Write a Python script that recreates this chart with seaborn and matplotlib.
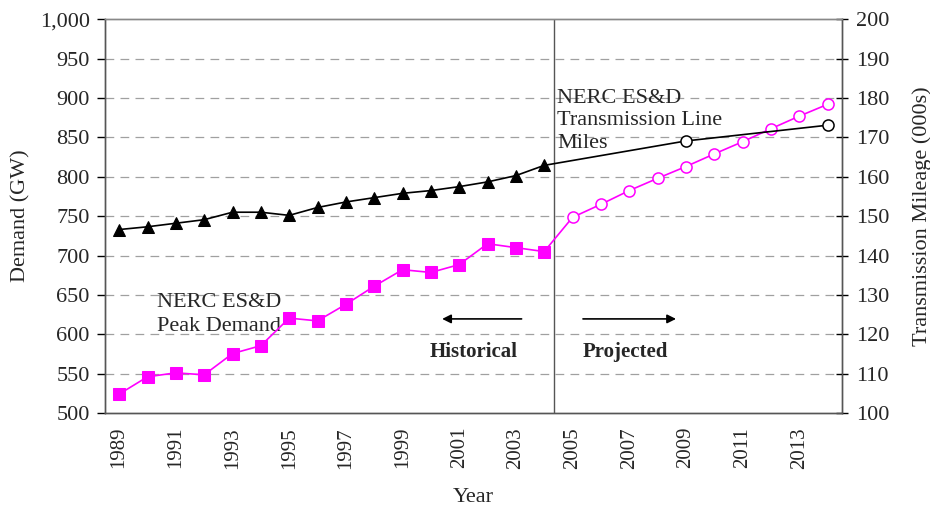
import numpy as np
import pandas as pd
import matplotlib
matplotlib.use("Agg")
import matplotlib.pyplot as plt
import seaborn as sns

# Categories (years)
years = list(range(1989, 2015))

# NERC ES&D peak demand (GW): historical 1989-2004, projected 2005-2014
demand_hist = [524, 546, 551, 548.5, 575.5, 585.5, 620.5, 617, 638, 661,
               682, 678.5, 688.5, 715, 710, 705]
demand_proj = [748.5, 765, 782.5, 798, 813, 829, 844.5, 861, 877, 892]

# Transmission line miles (000s): historical 1989-2004, projections at 2009 and 2014
miles_hist = [146.6, 147.3, 148.2, 149.1, 151.0, 151.0, 150.2, 152.2, 153.6, 154.7,
              155.8, 156.5, 157.5, 158.7, 160.3, 162.9]
miles_proj_years = [2009, 2014]
miles_proj = [169.1, 173.1]

tick_years = [1989, 1991, 1993, 1995, 1997, 1999, 2001, 2003, 2005, 2007, 2009, 2011, 2013]

PINK = "#ff00ff"

sns.set_style("white")
plt.rcParams['font.family'] = ['Liberation Serif', 'DejaVu Serif']

fig = plt.figure(figsize=(9.3, 5.08), dpi=100)
ax = fig.add_axes([0.1129, 0.187, 0.7922, 0.775])
ax2 = ax.twinx()

pos = {y: i for i, y in enumerate(years)}
n_hist = len(demand_hist)

dem_h = pd.DataFrame({"x": [pos[y] for y in years[:n_hist]], "v": demand_hist})
dem_p = pd.DataFrame({"x": [pos[y] for y in years[n_hist - 1:]],
                      "v": [demand_hist[-1]] + demand_proj})
mil_h = pd.DataFrame({"x": [pos[y] for y in years[:n_hist]], "v": miles_hist})
mil_p = pd.DataFrame({"x": [pos[years[n_hist - 1]]] + [pos[y] for y in miles_proj_years],
                      "v": [miles_hist[-1]] + miles_proj})

# projected lines (connecting from last historical point)
sns.lineplot(data=dem_p, x="x", y="v", ax=ax, color=PINK, lw=1.2, zorder=3)
ax.plot(dem_p["x"][1:], dem_p["v"][1:], ls="none", marker="o", ms=8,
        mfc="white", mec=PINK, mew=1.1, zorder=4)
sns.lineplot(data=dem_h, x="x", y="v", ax=ax, color=PINK, lw=1.2, marker="s",
             markersize=8, markeredgecolor=PINK, zorder=4)

sns.lineplot(data=mil_p, x="x", y="v", ax=ax2, color="black", lw=1.2, zorder=3)
ax2.plot(mil_p["x"][1:], mil_p["v"][1:], ls="none", marker="o", ms=8,
         mfc="white", mec="black", mew=1.1, zorder=4)
sns.lineplot(data=mil_h, x="x", y="v", ax=ax2, color="black", lw=1.2, marker="^",
             markersize=8, markeredgecolor="black", zorder=4)

# axes limits / ticks
ax.set_xlim(-0.5, len(years) - 0.5)
ax.set_ylim(500, 1000)
ax2.set_ylim(100, 200)
ax.set_yticks(np.arange(500, 1001, 50))
ax.set_yticklabels([f"{v:,}" for v in range(500, 1001, 50)])
ax2.set_yticks(np.arange(100, 201, 10))

ax.set_xticks(np.arange(len(years) + 1) - 0.5, minor=False)
ax.set_xticklabels([])
ax.set_xticks([pos[y] for y in tick_years], minor=True)
ax.set_xticklabels([str(y) for y in tick_years], minor=True, rotation=90, fontsize=15)
ax.tick_params(axis="x", which="major", direction="out", length=7, width=1, color="black")
ax.tick_params(axis="x", which="minor", length=0, pad=10)
ax.tick_params(axis="y", direction="out", length=6, width=1, labelsize=16, color="black", pad=5)
ax2.tick_params(axis="y", direction="inout", length=9, width=1, labelsize=16, color="black", pad=6)

for v in range(550, 1000, 50):
    ax.axhline(v, color="#a0a0a0", lw=0.9, ls=(0, (7, 5)), zorder=1)

for a in (ax, ax2):
    for s in a.spines.values():
        s.set_color("#555555")
        s.set_linewidth(1.0)
    a.spines["top"].set_color("#888888")
    a.set_xlabel("")
    a.set_ylabel("")

ax.set_xlabel("Year", fontsize=16, labelpad=14)
ax.set_ylabel("Demand (GW)", fontsize=16, labelpad=7)
ax2.set_ylabel("Transmission Mileage (000s)", fontsize=16, labelpad=16)

# divider between historical and projected
ax.axvline(pos[2004] + 0.34, color="#555555", lw=1.0, zorder=2)

# annotations
ax.text(pos[1989] + 1.35, 625, "NERC ES&D\nPeak Demand", fontsize=16, va="center",
        ha="left", linespacing=1.35)
ax.text(pos[2004] + 0.45, 871, "NERC ES&D\nTransmission Line\nMiles", fontsize=16,
        va="center", ha="left", linespacing=1.25)
ax.annotate("", xy=(11.3, 619.5), xytext=(14.3, 619.5),
            arrowprops=dict(arrowstyle="-|>", color="black", lw=1.2, mutation_scale=13))
ax.annotate("", xy=(19.75, 619.5), xytext=(16.27, 619.5),
            arrowprops=dict(arrowstyle="-|>", color="black", lw=1.2, mutation_scale=13))
ax.text(12.5, 577, "Historical", fontsize=15, fontweight="bold", ha="center", va="center")
ax.text(17.85, 577, "Projected", fontsize=15, fontweight="bold", ha="center", va="center")

fig.savefig("out.png", dpi=100)
